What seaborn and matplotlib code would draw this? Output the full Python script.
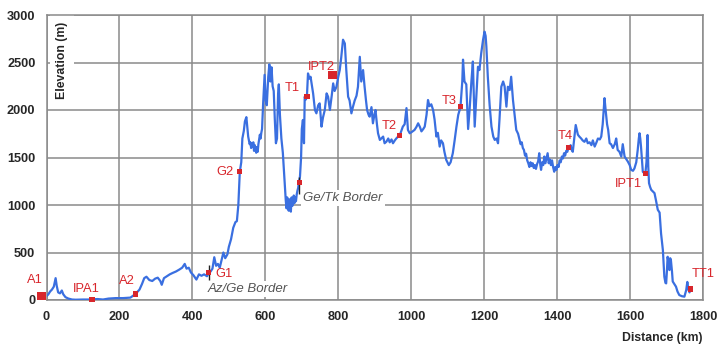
import matplotlib
matplotlib.use("Agg")
import matplotlib.pyplot as plt
import seaborn as sns
import pandas as pd

# ---------------- data: elevation profile, in segments ----------------
seg1_km = [0, 5, 10, 15, 20, 25, 28, 32, 37, 42, 46, 52, 60, 70, 80, 100, 120, 125, 140, 155, 170, 190, 210, 230, 244]
seg1_m = [40, 60, 90, 110, 140, 230, 150, 80, 70, 100, 60, 30, 15, 5, 3, 5, 5, 7, 10, 5, 15, 20, 20, 25, 63]

seg2_km = [255, 262, 268, 274, 282, 290, 298, 305, 312, 316, 322, 330, 338, 346, 355, 364, 372, 379, 384, 390, 396, 403, 411, 418, 425, 432, 440, 445]
seg2_m = [110, 170, 230, 245, 210, 200, 225, 235, 200, 160, 230, 250, 270, 285, 300, 320, 340, 380, 330, 340, 290, 260, 215, 270, 255, 270, 250, 287]

seg3_km = [450, 455, 460, 465, 470, 475, 480, 485, 490, 496, 500, 506, 512, 518, 522, 526, 530, 534, 537, 541, 544, 548, 551]
seg3_m = [300, 330, 450, 360, 380, 340, 420, 500, 440, 480, 560, 640, 760, 820, 830, 1000, 1350, 1450, 1700, 1780, 1880, 1925, 1800]

seg4_km = [553, 555, 557, 559, 561, 563, 565, 567, 569, 571, 573, 575, 577, 579, 581, 583, 585, 587, 589, 591]
seg4_m = [1720, 1680, 1640, 1660, 1600, 1650, 1610, 1660, 1570, 1630, 1590, 1550, 1610, 1560, 1640, 1690, 1740, 1700, 1760, 1800]

seg5_km = [594, 598, 601, 604, 608, 611, 614, 617, 620, 623, 626, 629, 632, 635, 637, 640, 644, 648, 653]
seg5_m = [2070, 2370, 2100, 2050, 2350, 2480, 2300, 2450, 2250, 2200, 1900, 1650, 1700, 2175, 2270, 1950, 1700, 1550, 1245]

seg6_km = [656, 658, 660, 662, 664, 666, 668, 670, 672, 674, 676, 678, 680, 682, 684, 686, 688, 690, 692]
seg6_m = [1050, 965, 1080, 980, 940, 1060, 960, 930, 1080, 990, 1040, 1100, 1020, 1080, 1040, 1110, 1150, 1180, 1240]

seg7_km = [695, 698, 700, 703, 706, 708, 711, 714, 717, 721, 724, 731, 736, 740, 745, 749, 754, 758, 763, 768, 772, 777, 782, 786, 790]
seg7_m = [1300, 1500, 1800, 1895, 1650, 2140, 2110, 2140, 2385, 2330, 2350, 2175, 2000, 1965, 2050, 2070, 1825, 1920, 2000, 2175, 2140, 2000, 2150, 2280, 2200]

seg8_km = [795, 800, 804, 808, 813, 818, 822, 827, 831, 836, 840, 845, 850, 854, 859, 863, 868, 872, 876, 879, 883, 886, 891, 895, 899, 902, 906]
seg8_m = [2245, 2350, 2420, 2550, 2740, 2700, 2420, 2140, 2100, 1965, 2030, 2100, 2150, 2245, 2560, 2300, 2420, 2250, 2100, 2000, 1950, 1930, 2030, 1860, 1950, 2000, 1850]

seg9_km = [909, 914, 918, 923, 927, 932, 937, 941, 946, 950, 955, 959, 964, 968, 973, 977, 982, 987, 991, 996, 1002]
seg9_m = [1755, 1685, 1700, 1720, 1650, 1667, 1700, 1660, 1690, 1650, 1680, 1700, 1720, 1727, 1780, 1825, 1850, 2020, 1790, 1755, 1770]

seg10_km = [1009, 1014, 1019, 1024, 1028, 1033, 1037, 1042, 1046, 1050, 1055, 1060, 1064, 1069, 1073, 1078, 1082, 1087, 1091, 1096, 1103, 1108, 1114, 1119, 1124, 1129, 1135]
seg10_m = [1790, 1820, 1860, 1820, 1775, 1800, 1825, 1950, 2105, 2040, 2060, 2000, 1900, 1720, 1760, 1615, 1680, 1650, 1560, 1475, 1420, 1450, 1545, 1680, 1825, 1950, 2030]

seg11_km = [1140, 1142, 1146, 1151, 1156, 1160, 1165, 1169, 1174, 1178, 1183, 1187, 1192, 1197, 1201, 1204, 1206, 1210, 1215, 1220, 1225, 1229, 1234, 1238]
seg11_m = [2300, 2530, 2300, 2270, 1800, 2000, 2300, 2510, 1825, 2100, 2455, 2420, 2600, 2740, 2825, 2780, 2670, 2350, 2050, 1825, 1720, 1685, 1700, 1650]

seg12_km = [1242, 1247, 1252, 1256, 1261, 1265, 1270, 1274, 1279, 1283, 1288, 1293]
seg12_m = [1900, 2245, 2300, 2250, 2035, 2245, 2210, 2350, 2105, 1965, 1790, 1750]

seg13_km = [1297, 1300, 1303, 1306, 1309, 1312, 1315, 1318, 1321, 1324, 1327, 1330, 1333, 1336, 1339, 1342, 1345]
seg13_m = [1685, 1640, 1660, 1600, 1580, 1520, 1540, 1470, 1440, 1400, 1450, 1410, 1440, 1390, 1420, 1380, 1430]

seg14_km = [1348, 1351, 1354, 1356, 1359, 1362, 1365, 1368, 1371, 1374, 1377, 1380, 1383, 1386, 1389, 1392, 1395]
seg14_m = [1460, 1545, 1420, 1370, 1450, 1420, 1510, 1440, 1490, 1545, 1440, 1480, 1420, 1470, 1400, 1350, 1400]

seg15_km = [1398, 1401, 1404, 1407, 1410, 1413, 1416, 1419, 1422, 1425, 1428, 1431, 1434, 1437, 1440, 1443]
seg15_m = [1370, 1420, 1400, 1470, 1450, 1510, 1490, 1545, 1520, 1570, 1560, 1600, 1600, 1630, 1580, 1560]

seg16_km = [1447, 1451, 1457, 1461, 1466, 1470, 1475, 1480, 1484, 1489, 1494, 1498, 1503, 1508, 1512, 1517, 1521, 1525, 1527, 1530, 1533, 1537, 1540]
seg16_m = [1700, 1842, 1740, 1720, 1700, 1680, 1665, 1700, 1650, 1660, 1630, 1680, 1615, 1660, 1700, 1690, 1720, 1850, 1965, 2125, 2000, 1850, 1790]

seg17_km = [1544, 1548, 1553, 1558, 1562, 1566, 1571, 1576, 1580, 1585, 1590, 1594, 1599, 1603, 1608, 1612, 1617, 1621, 1624, 1626, 1628, 1630, 1633, 1635, 1639, 1642]
seg17_m = [1650, 1640, 1600, 1640, 1700, 1580, 1560, 1510, 1640, 1510, 1480, 1457, 1420, 1370, 1360, 1385, 1450, 1580, 1700, 1755, 1700, 1615, 1450, 1350, 1335, 1335]

seg18_km = [1645, 1648, 1650, 1652, 1655, 1658, 1663, 1667, 1671, 1676, 1681, 1685, 1690, 1694, 1697, 1699, 1701, 1703]
seg18_m = [1450, 1737, 1400, 1230, 1190, 1160, 1140, 1125, 1050, 950, 920, 700, 525, 245, 180, 175, 300, 455]

seg19_km = [1706, 1708, 1710, 1712, 1715, 1717, 1721, 1726, 1730, 1735, 1742, 1749, 1754, 1757, 1760, 1763, 1766, 1768]
seg19_m = [380, 315, 440, 420, 300, 195, 170, 140, 90, 52, 40, 35, 105, 190, 110, 80, 116, 100]

segments_km = [seg1_km, seg2_km, seg3_km, seg4_km, seg5_km, seg6_km, seg7_km, seg8_km, seg9_km, seg10_km,
               seg11_km, seg12_km, seg13_km, seg14_km, seg15_km, seg16_km, seg17_km, seg18_km, seg19_km]
segments_m = [seg1_m, seg2_m, seg3_m, seg4_m, seg5_m, seg6_m, seg7_m, seg8_m, seg9_m, seg10_m,
              seg11_m, seg12_m, seg13_m, seg14_m, seg15_m, seg16_m, seg17_m, seg18_m, seg19_m]

distance_km = []
elevation_m = []
for a, b in zip(segments_km, segments_m):
    assert len(a) == len(b)
    distance_km += a
    elevation_m += b

# ---------------- sites ----------------
site_names = ["A1", "IPA1", "A2", "G1", "G2", "", "T1", "IPT2", "T2", "T3", "T4", "IPT1", "TT1"]
site_km = [-13, 125, 244, 445, 530, 693, 714, 784, 968, 1136, 1432, 1642, 1766]
site_m = [42, 7, 63, 287, 1350, 1235, 2140, 2368, 1730, 2035, 1603, 1334, 116]
site_big = [True, False, False, False, False, False, False, True, False, False, False, False, False]
label_km = [-33, 110, 220, 488, 489, None, 673, 755, 939, 1105, 1421, 1596, 1800]
label_m = [210, 113, 200, 270, 1350, None, 2228, 2456, 1831, 2095, 1726, 1221, 270]

border_names = ["Az/Ge Border", "Ge/Tk Border"]
border_km = [445, 692]
border_tick_lo = [210, 1120]
border_tick_hi = [370, 1300]
border_text_km = [442, 704]
border_text_m = [113, 1070]

x_ticks = [0, 200, 400, 600, 800, 1000, 1200, 1400, 1600, 1800]
y_ticks = [0, 500, 1000, 1500, 2000, 2500, 3000]

# ---------------- style ----------------
sns.set_style("white")
plt.rcParams["font.family"] = ["Liberation Sans", "DejaVu Sans"]

LINE = "#3a6fe0"
RED = "#d8262c"
GRID = "#8a8a8a"

fig = plt.figure(figsize=(7.17, 3.48), dpi=100)
ax = fig.add_axes([46.5 / 717, 48 / 348, 656.5 / 717, 285 / 348])

df = pd.DataFrame({"km": distance_km, "elev": elevation_m})
sns.lineplot(data=df, x="km", y="elev", sort=False, estimator=None,
             color=LINE, lw=1.6, ax=ax, zorder=3)

sites = pd.DataFrame({"km": site_km, "m": site_m, "big": site_big})
small = sites[~sites["big"]]
big = sites[sites["big"]]
sns.scatterplot(data=small, x="km", y="m", marker="s", s=14, color=RED,
                edgecolor="none", ax=ax, zorder=5, clip_on=False)
sns.scatterplot(data=big, x="km", y="m", marker="s", s=38, color=RED,
                edgecolor="none", ax=ax, zorder=5, clip_on=False)

for name, lx, ly in zip(site_names, label_km, label_m):
    if not name:
        continue
    ax.text(lx, ly, name, color=RED, fontsize=9.3, ha="center", va="center",
            zorder=6, clip_on=False)

ax.vlines(border_km, border_tick_lo, border_tick_hi, color="#222222", lw=1.0, zorder=4)
for name, tx, ty in zip(border_names, border_text_km, border_text_m):
    ax.text(tx, ty, name, color="#555555", fontsize=9.5, style="italic",
            ha="left", va="center", zorder=2.5,
            bbox=dict(boxstyle="square,pad=0.15", fc="white", ec="none"))

ax.set_xlim(0, 1800)
ax.set_ylim(0, 3000)
ax.set_xticks(x_ticks)
ax.set_yticks(y_ticks)
ax.set_axisbelow(True)
ax.grid(True, color=GRID, lw=1.1)
for sp in ax.spines.values():
    sp.set_color(GRID)
    sp.set_linewidth(1.1)
ax.tick_params(axis="both", which="major", length=5, width=1.1, color=GRID,
               labelsize=9.2, pad=3)
for lab in ax.get_xticklabels() + ax.get_yticklabels():
    lab.set_fontweight("bold")
ax.set_xlabel("")
ax.set_ylabel("")

ax.text(0.0236, 0.842, "Elevation (m)", transform=ax.transAxes, rotation=90,
        ha="center", va="center", fontsize=8.8, fontweight="bold", zorder=2.5,
        bbox=dict(boxstyle="square,pad=0.5", fc="white", ec="none"))
fig.text(703 / 717, 1 - 338 / 348, "Distance (km)", ha="right", va="center",
         fontsize=8.8, fontweight="bold")

fig.savefig("out.png", dpi=100)
